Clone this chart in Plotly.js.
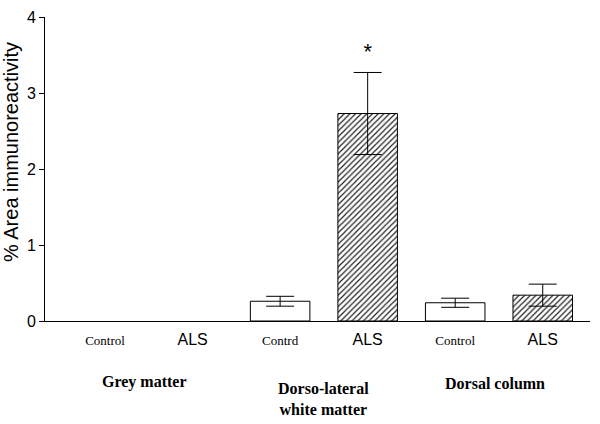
<!DOCTYPE html>
<html>
<head>
<meta charset="utf-8">
<script src="https://cdn.plot.ly/plotly-3.0.1.min.js"></script>
<style>
  html, body { margin: 0; padding: 0; background: #fff; }
  #chart { width: 600px; height: 424px; }
</style>
</head>
<body>
<div id="chart"></div>
<script>
// bar labels and groups
const barLabels = ['Control', 'ALS', 'Contrd', 'ALS', 'Control', 'ALS'];
const groupLabels = ['Grey matter', 'Dorso-lateral<br>white matter', 'Dorsal column'];

// values (% area); grey matter shows no bars
const controlX = [0, 2, 4];
const controlMean = [null, 0.26, 0.24];
const controlErr = [null, 0.065, 0.06];

const alsX = [1, 3, 5];
const alsMean = [null, 2.73, 0.34];
const alsErr = [null, 0.54, 0.145];

const sigX = [3];
const sigY = [3.52];

const serif = 'Liberation Serif, Times New Roman, serif';
const sans = 'Liberation Sans, Arial, sans-serif';

const tickText = barLabels.map(t => t === 'ALS'
    ? `<span style="font-family:${sans};font-size:16px">${t}</span>`
    : `<span style="font-family:${serif};font-size:13px">${t}</span>`);

const errStyle = { type: 'data', visible: true, color: '#000', thickness: 1, width: 14 };

const data = [
    {
        type: 'bar',
        x: controlX,
        y: controlMean,
        width: 0.68,
        marker: { color: '#fff', line: { color: '#000', width: 1 } },
        error_y: Object.assign({ array: controlErr }, errStyle),
        hoverinfo: 'skip'
    },
    {
        type: 'bar',
        x: alsX,
        y: alsMean,
        width: 0.68,
        marker: {
            color: '#fff',
            line: { color: '#000', width: 1 },
            pattern: { shape: '/', fgcolor: '#222', bgcolor: '#fff', size: 4, solidity: 0.3 }
        },
        error_y: Object.assign({ array: alsErr }, errStyle),
        hoverinfo: 'skip'
    },
    {
        type: 'scatter',
        mode: 'text',
        x: sigX,
        y: sigY,
        text: ['*'],
        textfont: { family: sans, size: 22, color: '#000' },
        hoverinfo: 'skip'
    }
];

const groupX = [0.45, 2.5, 4.45];
const groupY = [-0.2, -0.257, -0.205];
const annotations = groupLabels.map((g, i) => ({
    x: groupX[i],
    y: groupY[i],
    xref: 'x',
    yref: 'paper',
    yanchor: 'middle',
    text: `<b>${g}</b>`,
    showarrow: false,
    align: 'center',
    font: { family: serif, size: 16, color: '#000' }
}));

// y axis title, placed a little above the axis centre as in the reference
annotations.push({
    x: 0,
    xshift: -34,
    y: 0.556,
    xref: 'paper',
    yref: 'paper',
    xanchor: 'center',
    yanchor: 'middle',
    textangle: -90,
    text: '% Area immunoreactivity',
    showarrow: false,
    font: { family: sans, size: 20, color: '#000' }
});

const layout = {
    width: 600,
    height: 424,
    margin: { l: 45, r: 10, t: 17, b: 103 },
    paper_bgcolor: '#fff',
    plot_bgcolor: '#fff',
    showlegend: false,
    barmode: 'overlay',
    xaxis: {
        range: [-0.686, 5.54],
        tickmode: 'array',
        tickvals: [0, 1, 2, 3, 4, 5],
        ticktext: tickText,
        ticks: '',
        ticklabelstandoff: 6,
        showgrid: false,
        zeroline: false,
        showline: true,
        linecolor: '#000',
        linewidth: 1,
        tickfont: { family: sans, size: 14, color: '#000' }
    },
    yaxis: {
        range: [0, 4],
        tickvals: [0, 1, 2, 3, 4],
        ticks: 'outside',
        ticklen: 5,
        tickcolor: '#000',
        showgrid: false,
        zeroline: false,
        showline: true,
        linecolor: '#000',
        linewidth: 1,
        tickfont: { family: sans, size: 16, color: '#000' }
    },
    annotations: annotations
};

Plotly.newPlot('chart', data, layout, { displayModeBar: false, staticPlot: true });
</script>
</body>
</html>
